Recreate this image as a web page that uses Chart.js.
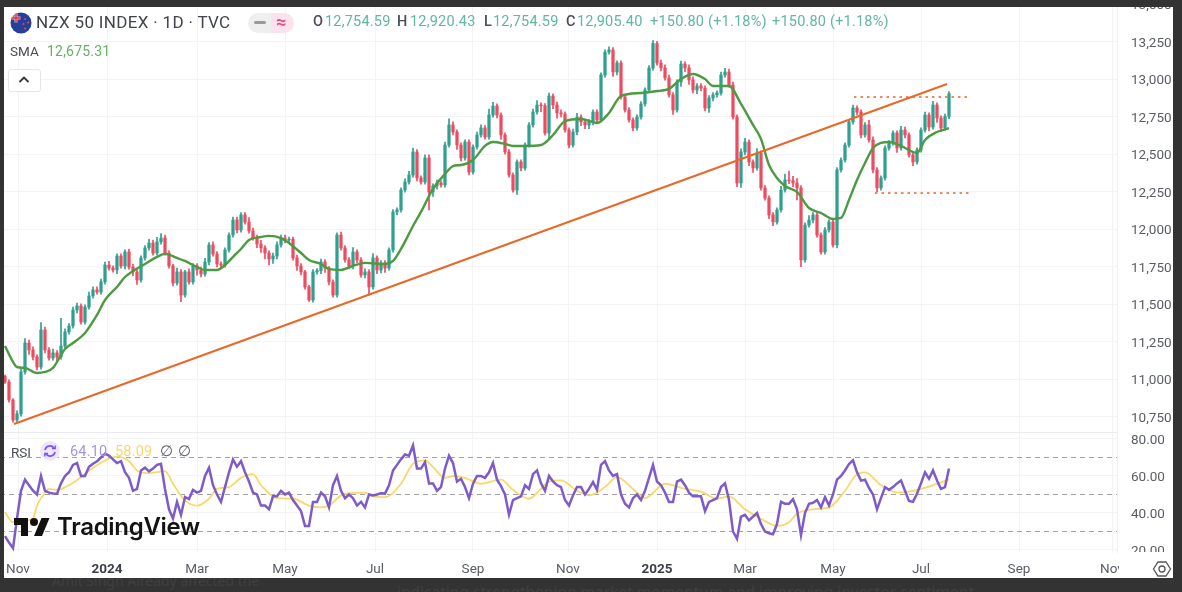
<!DOCTYPE html>
<html>
<head>
<meta charset="utf-8">
<title>NZX 50 INDEX</title>
<script src="https://cdn.jsdelivr.net/npm/chart.js@4/dist/chart.umd.min.js"></script>
<style>
  html, body { margin: 0; padding: 0; background: #fff; overflow: hidden; }
  #page { position: relative; width: 1182px; height: 592px; font-family: Roboto, "Noto Sans", sans-serif; }
  canvas { position: absolute; left: 0; display: block; }
  #priceChart { top: 0; }
  #rsiChart { top: 433px; }
  .frame { position: absolute; background: #333333; z-index: 5; overflow: hidden; }
  .t { position: absolute; z-index: 4; white-space: nowrap; line-height: 1; }
  .val { color: #62b6a4; font-size: 14.5px; letter-spacing: 0.2px; top: 15px; }
  .key { color: #4a4d55; font-size: 14.5px; font-weight: 500; top: 15px; }
  .abs { position: absolute; z-index: 4; }
</style>
</head>
<body>
<div id="page">
  <canvas id="priceChart" width="1173" height="433"></canvas>
  <canvas id="rsiChart" width="1173" height="145"></canvas>

  <!-- pane divider and the corner of the date axis -->
  <div class="abs" style="left:4px;top:432px;width:1113px;height:1px;background:#e9e9f2"></div>
  <div class="abs" style="left:1119px;top:552px;width:54px;height:26px;background:#fff"></div>

  <!-- legend row -->
  <svg class="abs" style="left:10px;top:12px" width="22" height="22" viewBox="0 0 22 22">
    <circle cx="11" cy="11" r="10.5" fill="#23409a"/>
    <path d="M1.5 6h9M6 1.5v9" stroke="#f6b8b8" stroke-width="3"/>
    <path d="M1.5 6h9M6 1.5v9" stroke="#d8324a" stroke-width="1.4"/>
    <circle cx="15" cy="7" r="1.1" fill="#e0445a"/><circle cx="18" cy="10.5" r="1.1" fill="#e0445a"/>
    <circle cx="13.5" cy="12" r="1.1" fill="#e0445a"/><circle cx="15" cy="16.5" r="1.1" fill="#e0445a"/>
  </svg>
  <span class="t" style="left:36px;top:14px;font-size:17px;color:#41444c;letter-spacing:.33px">NZX 50 INDEX · 1D · TVC</span>
  <div class="abs" style="left:248px;top:13px;width:23px;height:20px;background:#efefef;border-radius:10px 0 0 10px"></div>
  <div class="abs" style="left:271px;top:13px;width:23px;height:20px;background:#fbe3ec;border-radius:0 10px 10px 0"></div>
  <div class="abs" style="left:254px;top:21px;width:12px;height:3px;background:#9a9a9a;border-radius:2px"></div>
  <span class="t" style="left:276px;top:13px;font-size:18px;font-weight:700;color:#ea4c89">≈</span>
  <span class="t key" style="left:313px">O</span><span class="t val" style="left:325px">12,754.59</span>
  <span class="t key" style="left:397px">H</span><span class="t val" style="left:410px">12,920.43</span>
  <span class="t key" style="left:484px">L</span><span class="t val" style="left:493px">12,754.59</span>
  <span class="t key" style="left:566px">C</span><span class="t val" style="left:577px">12,905.40</span>
  <span class="t val" style="left:650px">+150.80</span><span class="t val" style="left:708px">(+1.18%)</span>
  <span class="t val" style="left:772px">+150.80</span><span class="t val" style="left:830px">(+1.18%)</span>

  <span class="t" style="left:10px;top:45px;font-size:13.5px;color:#4a4d55">SMA</span>
  <span class="t" style="left:47px;top:44px;font-size:14px;letter-spacing:.2px;color:#68b068">12,675.31</span>
  <div class="abs" style="left:8px;top:69px;width:31px;height:21px;background:#fff;border:1px solid #e6e6e6;border-radius:3px"></div>
  <svg class="abs" style="left:18px;top:75px" width="12" height="9"><path d="M1.5 7L6 2.5 10.5 7" fill="none" stroke="#333" stroke-width="1.8"/></svg>

  <!-- oscillator legend -->
  <span class="t" style="left:11px;top:446px;font-size:13.5px;color:#4a4d55">RSI</span>
  <div class="abs" style="left:40px;top:441px;width:20px;height:20px;border-radius:10px;background:#ece7fb"></div>
  <svg class="abs" style="left:43px;top:444px" width="14" height="14" viewBox="0 0 14 14">
    <path d="M2 6a5 5 0 0 1 9-2M12 8a5 5 0 0 1-9 2" fill="none" stroke="#7c4dff" stroke-width="1.6"/>
    <path d="M9 4.5h3.2V1.5M5 9.5H1.8v3" fill="none" stroke="#7c4dff" stroke-width="1.4"/>
  </svg>
  <span class="t" style="left:70px;top:445px;font-size:14.5px;letter-spacing:.2px;color:#a596dc">64.10</span>
  <span class="t" style="left:115px;top:445px;font-size:14.5px;letter-spacing:.2px;color:#f9d86a">58.09</span>
  <span class="t" style="left:160px;top:445px;font-size:14.5px;color:#5a5d65">∅</span>
  <span class="t" style="left:178px;top:445px;font-size:14.5px;color:#5a5d65">∅</span>

  <!-- watermark -->
  <svg class="abs" style="left:14px;top:514px" width="36" height="28" viewBox="0 0 36 28">
    <path d="M14 22H7V11H0V4h14v18zM28 22h-8l7.5-18h8L28 22z" fill="#111"/><circle cx="20" cy="8" r="4" fill="#111"/>
  </svg>
  <span class="t" style="left:57px;top:515px;font-family:Inter,sans-serif;font-size:24px;font-weight:600;letter-spacing:-.3px;color:#131313">TradingView</span>

  <!-- settings button on the date axis -->
  <svg class="abs" style="left:1152px;top:559px;z-index:6" width="20" height="20" viewBox="0 0 20 20">
    <path d="M6 3h8l4.5 7-4.5 7H6l-4.5-7z" fill="none" stroke="#555" stroke-width="1.3"/>
    <circle cx="10" cy="10" r="3" fill="none" stroke="#555" stroke-width="1.3"/>
  </svg>

  <!-- dark surround -->
  <div class="frame" style="left:0;top:0;width:1182px;height:7px"></div>
  <div class="frame" style="left:0;top:0;width:4px;height:592px"></div>
  <div class="frame" style="left:1173px;top:0;width:9px;height:592px"></div>
  <div class="frame" style="left:0;top:578px;width:1182px;height:14px;font-family:'Noto Sans',sans-serif;font-size:14px;color:#404040">
    <span style="position:absolute;left:52px;top:-7px;white-space:nowrap">Amit Singh Already affected the</span>
    <span style="position:absolute;left:397px;top:3px;white-space:nowrap;font-size:15.5px">indicating strengthening market momentum and improving investor sentiment.</span>
  </div>
</div>

<script>
// daily candles, oldest first (one column per two sessions)
const opens = [
  11020,10983,10863,10730,10770,11050,11243,11197,11150,11083,
  11330,11197,11143,11177,11150,11223,11317,11357,11463,11490,
  11383,11483,11557,11597,11583,11650,11763,11743,11730,11823,
  11757,11850,11750,11717,11663,11810,11877,11910,11843,11917,
  11943,11843,11757,11643,11717,11563,11717,11650,11757,11730,
  11703,11783,11897,11837,11770,11763,11863,11963,12063,11997,
  12097,12050,11990,11943,11903,11877,11843,11803,11823,11897,
  11943,11930,11935,11810,11757,11717,11617,11530,11717,11725,
  11783,11743,11650,11563,11963,11877,11797,11757,11850,11797,
  11697,11717,11617,11810,11730,11777,11743,11863,12117,12130,
  12263,12317,12363,12517,12343,12317,12477,12250,12290,12310,
  12297,12563,12697,12650,12563,12477,12583,12383,12550,12630,
  12677,12617,12763,12823,12763,12630,12517,12363,12263,12450,
  12410,12563,12697,12783,12830,12825,12643,12890,12830,12777,
  12770,12663,12563,12650,12750,12717,12697,12717,12783,12730,
  13030,13183,13197,13050,13110,12883,12797,12730,12677,12750,
  12837,12930,13077,13240,13110,13077,13010,12897,12797,12983,
  13103,13077,12997,12930,12957,12943,12810,12877,12897,12910,
  13030,13050,12963,12750,12310,12517,12583,12450,12410,12510,
  12277,12210,12097,12050,12130,12263,12330,12325,12310,12277,
  11797,12030,12063,12097,11963,11850,11997,12050,11897,12397,
  12463,12563,12717,12810,12783,12630,12697,12597,12397,12277,
  12343,12543,12577,12643,12543,12663,12630,12497,12450,12530,
  12663,12763,12683,12830,12743,12677,12754
];
const closes = [
  10983,10863,10730,10770,11050,11243,11197,11150,11083,11330,
  11197,11143,11177,11150,11223,11317,11357,11463,11490,11383,
  11483,11557,11597,11583,11650,11763,11743,11730,11823,11757,
  11850,11750,11717,11663,11810,11877,11910,11843,11917,11943,
  11843,11757,11643,11717,11563,11717,11650,11757,11730,11703,
  11783,11897,11837,11770,11763,11863,11963,12063,11997,12097,
  12050,11990,11943,11903,11877,11843,11803,11823,11897,11943,
  11930,11935,11810,11757,11717,11617,11530,11717,11725,11783,
  11743,11650,11563,11963,11877,11797,11757,11850,11797,11697,
  11717,11617,11810,11730,11777,11743,11863,12117,12130,12263,
  12317,12363,12517,12343,12317,12477,12250,12290,12310,12297,
  12563,12697,12650,12563,12477,12583,12383,12550,12630,12677,
  12617,12763,12823,12763,12630,12517,12363,12263,12450,12410,
  12563,12697,12783,12830,12825,12643,12890,12830,12777,12770,
  12663,12563,12650,12750,12717,12697,12717,12783,12730,13030,
  13183,13197,13050,13110,12883,12797,12730,12677,12750,12837,
  12930,13077,13240,13110,13077,13010,12897,12797,12983,13103,
  13077,12997,12930,12957,12943,12810,12877,12897,12910,13030,
  13050,12963,12750,12310,12517,12583,12450,12410,12510,12277,
  12210,12097,12050,12130,12263,12330,12325,12310,12277,11797,
  12030,12063,12097,11963,11850,11997,12050,11897,12397,12463,
  12563,12717,12810,12783,12630,12697,12597,12397,12277,12343,
  12543,12577,12643,12543,12663,12630,12497,12450,12530,12663,
  12763,12683,12830,12743,12677,12754,12905
];
// wick lengths above and below each candle body
const upperWicks = [
  10,15,10,20,20,30,20,20,15,50,
  20,15,25,15,185,20,15,20,20,15,
  15,25,20,20,20,20,25,15,15,15,
  15,20,20,20,15,15,25,20,30,30,
  20,15,10,25,15,10,20,15,15,20,
  25,15,20,15,15,15,15,20,20,15,
  15,30,20,20,25,15,15,20,20,20,
  20,15,15,20,15,10,10,15,15,20,
  15,10,15,15,20,15,15,30,15,15,
  20,15,30,15,15,15,15,15,15,15,
  20,25,25,15,15,20,20,15,20,15,
  20,40,20,15,15,15,15,15,20,20,
  15,40,25,15,15,15,15,15,15,15,
  15,15,20,30,15,15,20,15,20,20,
  15,15,20,25,15,15,15,15,15,15,
  15,20,15,15,15,15,15,15,15,15,
  15,15,20,15,20,20,20,15,15,20,
  15,20,20,15,15,15,15,15,15,20,
  25,20,20,15,20,25,15,15,30,15,
  15,15,15,15,25,40,60,30,30,15,
  15,30,15,15,15,15,15,15,15,15,
  15,15,20,15,15,15,30,20,15,15,
  15,15,15,15,25,20,15,15,15,15,
  20,15,25,15,15,15,15
];
const lowerWicks = [
  10,15,15,15,15,15,30,20,20,15,
  20,15,15,30,15,15,15,15,20,15,
  15,15,15,15,15,15,15,15,25,15,
  20,15,25,30,15,15,15,15,15,15,
  15,15,20,15,45,15,15,15,35,20,
  15,20,15,20,15,15,15,15,20,15,
  15,15,15,25,30,40,40,30,20,15,
  20,15,15,30,20,15,10,15,15,20,
  30,20,15,15,15,15,20,20,20,15,
  20,55,15,25,20,30,15,15,20,15,
  15,15,15,20,15,15,120,30,20,15,
  15,15,20,30,20,15,20,15,15,15,
  15,15,15,20,30,15,15,15,30,20,
  15,15,15,15,40,15,35,25,35,20,
  15,20,15,20,25,25,25,20,15,15,
  15,15,30,20,15,15,15,20,15,15,
  15,15,15,15,20,15,15,30,15,30,
  25,30,20,25,20,20,30,20,15,15,
  15,15,15,25,30,20,25,30,15,15,
  15,25,25,15,15,15,20,25,80,45,
  15,15,20,15,15,15,15,15,20,15,
  15,15,15,20,20,15,15,20,25,15,
  15,15,15,30,15,20,15,25,15,15,
  15,25,15,30,25,15,15
];

// moving average, as column / level pairs
const smaBars = [0,2,3,5,8,10,12,14,15,17,20,23,25,28,30,32,35,38,40,43,45,48,50,53,55,57,59,61,64,66,69,71,74,76,79,81,84,87,90,95,97,99,102,104,107,110,112,114,117,120,122,125,127,130,134,137,140,144,148,151,154,159,163,166,169,172,175,177,181,184,187,189,191,193,195,198,201,204,207,209,211,213,215,217,219,221,224,228,230,233,236];
const smaValues = [11223,11117,11083,11077,11043,11050,11077,11163,11203,11243,11310,11430,11530,11617,11683,11723,11770,11817,11837,11810,11790,11750,11730,11730,11763,11817,11870,11930,11950,11957,11943,11910,11843,11797,11770,11737,11730,11757,11777,11770,11790,11870,12023,12117,12270,12370,12423,12430,12463,12557,12583,12570,12557,12557,12563,12630,12723,12737,12710,12777,12890,12910,12923,12937,13003,13037,13003,12957,12957,12837,12697,12603,12430,12343,12290,12250,12143,12110,12070,12077,12197,12330,12443,12543,12577,12583,12557,12510,12597,12650,12675.31];

// drawn trendline and the two dotted levels
const trendBars = [2.25, 235.5];
const trendValues = [10703, 12970];
const resistanceBars = [212.25, 241];
const resistanceValues = [12883, 12883];
const supportBars = [217.5, 241.25];
const supportValues = [12243, 12243];

// RSI per column
const rsiValues = [
  27.5,24,21,37,52,58,55,52,50,60,
  52,51,50.5,50.4,56,60,62,66,67,60,
  60,65,66.6,68,70,72,71,69,67,68,
  62,59,52,53,63,64.5,62.5,64,66,66.6,
  53,42,37,46,39,48.6,47.5,52.5,51,52,
  60,64.5,55,50,46,54,62,69,65,68,
  62,57,51,50,44,44,42,49,49,52,
  50,51,47,44,41,33,33,46,46,51,
  49,43,55,60,52,48,50,48,44,46,
  43,50,49.5,50,50.7,50.5,55,63,66,69,
  71.6,71,76.5,64,64,67.5,56,56,52,54,
  64,71,67,57,58.5,54,48,55.8,60,60,
  59,62,67,58,54.5,50,39,47,48,49,
  55,53,61,63,56,52,60,57,55,54,
  47,44,49.5,54,54,50,53,56.7,52.5,66,
  68,63,60,61,50,45,43,48,50,47,
  52,59,66,57,55,51,46,46,57,58,
  55,51,49,49,49,41,46,47,48,54,
  56,47,30,26,38,39,36,38,40,34,
  30,29,28.5,34,46,45,45,47.5,42,28,
  40,45,45.5,47,43,48.6,44,50,58,60,
  63,66.5,68.5,62,57.5,58,53.5,50,42,48,
  54,52.5,54,56,57.6,52,46.5,46,50.4,56,
  62,58.5,63,57.6,53,54,64.1
];
const rsiMaBars = [0,2,7,8,10,11,13,16,19,22,25,28,31,33,36,40,42,45,48,51,53,56,59,62,64,68,72,76,79,81,84,86,90,92,95,99,102,105,107,110,112,115,119,124,127,131,134,136,139,143,146,150,153,157,160,165,170,174,178,181,185,190,193,196,198,202,206,210,213,215,219,223,227,232,236];
const rsiMaValues = [40.5,35,37,44,51,53,52.5,55,59.4,64.4,68.4,70.5,68,63,61.5,62.6,55.8,46.8,44,47.7,53,54,59,61,55,48,47.7,44,43,44,49.5,50.7,51,49,48.6,55.8,66.6,68.4,64.8,59,60,59,55.8,58,52.5,47.7,53,57,57.6,52,49.5,54,59.4,53,48,55.8,53,51.6,47.7,49,42,35.6,33,35,39.6,42,43,52,61,62,55,51,52,55,58.09];
const rsiLevels = [70, 50, 30];

// axis ticks
const priceTicks = [13500,13250,13000,12750,12500,12250,12000,11750,11500,11250,11000,10750];
const rsiTicks = [80,60,40,20];
const dateTicks = [3.25,25.5,48,70,92.5,117,140.75,163,185,207,229,253.5,276.75];
const dateLabels = ['Nov','2024','Mar','May','Jul','Sep','Nov','2025','Mar','May','Jul','Sep','Nov'];

const UP = '#2f9f8f';
const DOWN = '#ee4b60';
const GRID = '#f4f4f6';
const AXIS_TEXT = '#5a5d65';
const bars = closes.map((c, i) => i);
const candleColors = closes.map((c, i) => c >= opens[i] ? UP : DOWN);
const pairs = (xs, ys) => xs.map((x, i) => ({ x: x, y: ys[i] }));

function setTicks(values) {
  return scale => { scale.ticks = values.map(v => ({ value: v })); };
}

function upperOf(i) { return Math.max(opens[i], closes[i]) + upperWicks[i]; }
function lowerOf(i) { return Math.min(opens[i], closes[i]) - lowerWicks[i]; }

// same column scale for both panes
function dateAxis(showLabels) {
  return {
    type: 'linear',
    min: -1.25,
    max: 278,
    offset: false,
    afterBuildTicks: setTicks(dateTicks),
    afterFit: scale => {
      scale.paddingLeft = 0;
      scale.paddingRight = 0;
      scale.height = showLabels ? 26 : 0;
    },
    grid: { color: GRID, drawTicks: false, offset: false },
    border: { display: false },
    ticks: {
      display: showLabels,
      autoSkip: false,
      maxRotation: 0,
      padding: 10,
      callback: v => dateLabels[dateTicks.indexOf(v)],
      color: c => /^\d/.test(dateLabels[c.index]) ? '#3c3f47' : AXIS_TEXT,
      font: c => ({ family: 'Roboto', size: 13.5, weight: /^\d/.test(dateLabels[c.index]) ? '700' : '400' })
    }
  };
}

function valueAxis(min, max, ticks, format) {
  return {
    position: 'right',
    min: min,
    max: max,
    afterBuildTicks: setTicks(ticks),
    afterFit: scale => {
      scale.paddingTop = 0;
      scale.paddingBottom = 0;
      scale.width = 56;
    },
    grid: { color: GRID, drawTicks: false },
    border: { color: '#f0f0f3' },
    ticks: {
      autoSkip: false,
      padding: 14,
      labelOffset: 1.5,
      color: AXIS_TEXT,
      font: { family: 'Roboto', size: 13.5 },
      callback: format
    }
  };
}

function lineSet(points, color, width, extra) {
  return Object.assign({
    type: 'line',
    data: points,
    borderColor: color,
    borderWidth: width,
    pointRadius: 0,
    tension: 0,
    order: 1
  }, extra);
}

const commonOptions = {
  responsive: false,
  animation: false,
  layout: { padding: 0 },
  plugins: { legend: { display: false }, tooltip: { enabled: false } }
};

// price pane: wicks, bodies, SMA and drawings
new Chart(document.getElementById('priceChart'), {
  type: 'bar',
  data: {
    datasets: [
      {
        data: bars.map(i => ({ x: i, y: [lowerOf(i), upperOf(i)] })),
        backgroundColor: candleColors,
        barThickness: 1,
        grouped: false,
        order: 5
      },
      {
        data: bars.map(i => ({ x: i, y: [opens[i], closes[i]] })),
        backgroundColor: candleColors,
        barThickness: 2.6,
        grouped: false,
        order: 4
      },
      lineSet(pairs(smaBars, smaValues), '#4c9a42', 2.4, { cubicInterpolationMode: 'monotone', order: 3 }),
      lineSet(pairs(trendBars, trendValues), '#e8672a', 2, { order: 2 }),
      lineSet(pairs(resistanceBars, resistanceValues), '#ee8a5c', 2, { borderDash: [2.5, 4], order: 2 }),
      lineSet(pairs(supportBars, supportValues), '#ee8a5c', 2, { borderDash: [2.5, 4], order: 2 })
    ]
  },
  options: Object.assign({}, commonOptions, {
    scales: {
      x: dateAxis(false),
      y: valueAxis(10643, 13530, priceTicks, v => v.toLocaleString('en-US'))
    }
  })
});

// oscillator pane
const levelSets = rsiLevels.map(level => lineSet(
  pairs([-1.25, 278], [level, level]), '#a0a0a4', 1, { borderDash: [5, 4], order: 3 }
));

new Chart(document.getElementById('rsiChart'), {
  type: 'line',
  data: {
    datasets: levelSets.concat([
      lineSet(pairs(rsiMaBars, rsiMaValues), '#f9d86a', 1.8, { cubicInterpolationMode: 'monotone', order: 2 }),
      lineSet(pairs(bars, rsiValues), '#7e5bc8', 2.5, { order: 1 })
    ])
  },
  options: Object.assign({}, commonOptions, {
    scales: {
      x: dateAxis(true),
      y: valueAxis(18.9, 83.24, rsiTicks, v => v.toFixed(2))
    }
  })
});
</script>
</body>
</html>
